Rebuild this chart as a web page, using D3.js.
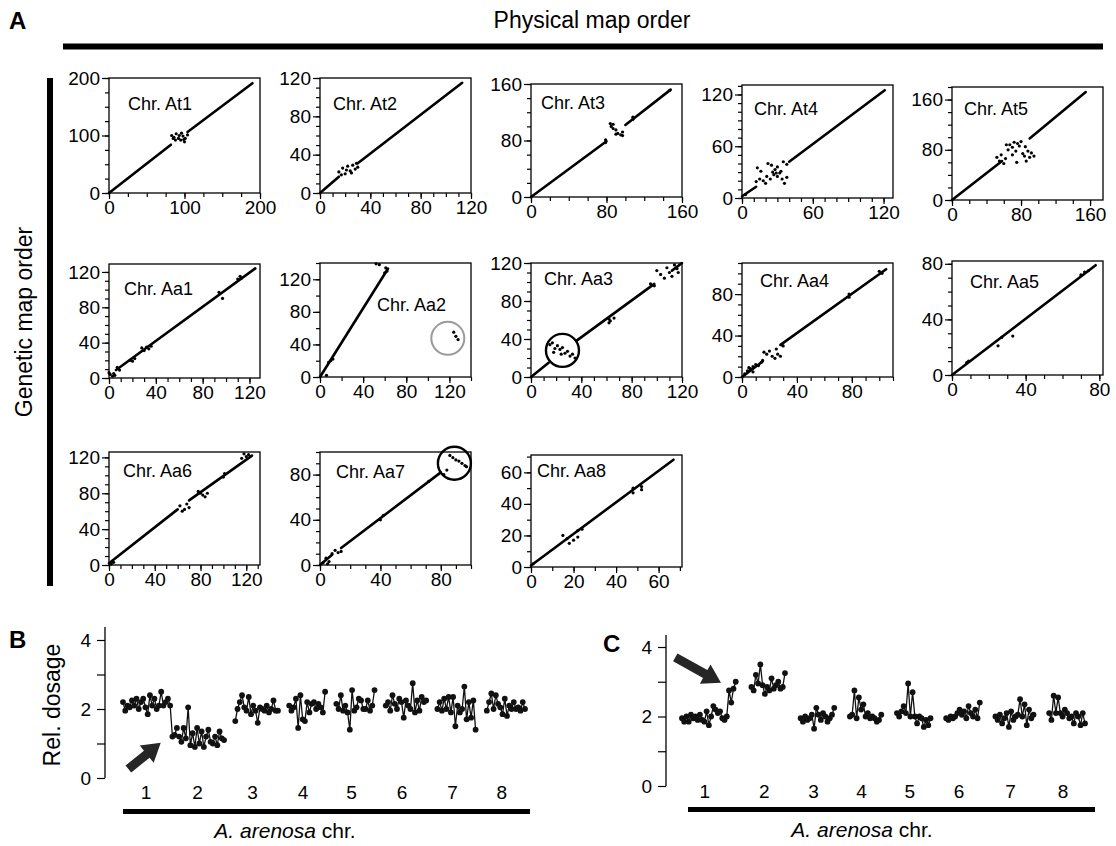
<!DOCTYPE html>
<html>
<head>
<meta charset="utf-8">
<script src="https://cdn.jsdelivr.net/npm/d3@7"></script>
<style>
body { margin: 0; background: #fff; }
svg { font-family: "Liberation Sans", Arial, Helvetica, sans-serif; }
.tick line { stroke: #000; stroke-width: 1.2; }
.tick text { fill: #000; }
</style>
</head>
<body>
<div id="fig"></div>
<script>

// ---- panel A: genetic vs physical map order ----
var chrNames = ["At1", "At2", "At3", "At4", "At5", "Aa1", "Aa2", "Aa3", "Aa4", "Aa5", "Aa6", "Aa7", "Aa8"];

// axis maxima [physical, genetic]
var chrDomains = {
    At1: [200, 200], At2: [120, 120], At3: [160, 160], At4: [128, 131], At5: [175, 180],
    Aa1: [129, 129], Aa2: [140, 140], Aa3: [120, 120], Aa4: [110, 110], Aa5: [82, 82],
    Aa6: [132, 126], Aa7: [100, 100], Aa8: [71, 71],
};

var majorTicks = {
    At1: [0, 100, 200], At2: [0, 40, 80, 120], At3: [0, 80, 160], At4: [0, 60, 120], At5: [0, 80, 160],
    Aa1: [0, 40, 80, 120], Aa2: [0, 40, 80, 120], Aa3: [0, 40, 80, 120], Aa4: [0, 40, 80], Aa5: [0, 40, 80],
    Aa6: [0, 40, 80, 120], Aa7: [0, 40, 80], Aa8: [0, 20, 40, 60],
};

var minorSteps = {
    At1: 25, At2: 10, At3: 20, At4: 10, At5: 20,
    Aa1: 10, Aa2: 20, Aa3: 10, Aa4: 10, Aa5: 10,
    Aa6: 10, Aa7: 10, Aa8: 10,
};

// collinear blocks [physStart, genStart, physEnd, genEnd]
var blocks = {
    At1: [[0, 0, 82, 84], [104, 106, 190, 191]],
    At2: [[0, 0, 15, 17], [30, 31, 113, 115]],
    At3: [[0, 0, 80, 79], [100, 102, 148, 152]],
    At4: [[0, 2, 12, 13], [40, 42, 121, 125]],
    At5: [[0, 0, 58, 62], [90, 98, 155, 172]],
    Aa1: [[6, 9, 125, 124]],
    Aa2: [[0, 0, 63, 133]],
    Aa3: [[0, 0, 14, 15], [36, 38, 98, 98], [112, 112, 120, 120]],
    Aa4: [[0, 0, 15, 15], [28, 31, 105, 104]],
    Aa5: [[0, 0, 78, 79]],
    Aa6: [[0, 2, 60, 62], [70, 72, 125, 122]],
    Aa7: [[0, 0, 8, 9], [14, 15, 80, 82]],
    Aa8: [[0, 1, 67, 68]],
};

// markers off the main blocks [phys, gen]
var markers = {
    At1: [[83, 100], [86, 97], [89, 103], [92, 95], [95, 92], [98, 99], [101, 95], [104, 101],
          [88, 92], [96, 104], [100, 89], [93, 100], [85, 95], [99, 93]],
    At2: [[15, 22], [17, 19], [18, 26], [20, 20], [21, 24], [22, 28], [24, 23], [25, 21],
          [26, 29], [28, 25], [29, 31], [30, 27]],
    At3: [[79, 77], [79, 81], [84, 104], [85, 100], [87, 97], [87, 103], [90, 95], [90, 89],
          [92, 90], [95, 88], [97, 92], [97, 87], [108, 110], [108, 113], [147, 151]],
    At4: [[3, 4], [13, 35], [16, 31], [22, 40], [25, 38], [28, 33], [30, 36], [35, 42], [38, 39],
          [18, 20], [20, 17], [24, 22], [27, 27], [30, 25], [32, 29], [34, 22], [36, 17], [38, 24],
          [15, 22], [12, 19], [26, 30], [29, 29], [21, 25], [33, 31]],
    At5: [[52, 68], [55, 62], [57, 72], [60, 58], [62, 66], [65, 80], [67, 88], [70, 84], [72, 92],
          [74, 78], [76, 90], [78, 86], [80, 93], [82, 74], [84, 70], [86, 62], [88, 78], [90, 68],
          [92, 75], [75, 60], [70, 72], [85, 85], [63, 88], [95, 70]],
    Aa1: [[0, 6], [1, 4], [3, 2], [4, 5], [5, 3], [7, 12], [9, 9], [18, 20], [20, 19], [22, 22],
          [28, 34], [30, 31], [32, 35], [34, 33], [36, 36], [94, 97], [97, 90], [110, 112],
          [112, 115], [113, 113]],
    Aa2: [[6, 2], [52, 139], [55, 138], [61, 134], [62, 130], [60, 128], [124, 55], [126, 50],
          [128, 46], [8, 18], [10, 20], [12, 22]],
    Aa3: [[15, 34], [17, 36], [19, 30], [21, 33], [23, 29], [25, 31], [27, 25], [29, 27], [31, 22],
          [33, 24], [35, 20], [18, 26], [24, 24], [62, 57], [62, 61], [63, 59], [66, 62], [95, 98],
          [98, 96], [100, 112], [103, 108], [106, 104], [108, 115], [110, 110], [112, 106],
          [114, 118], [116, 114], [117, 110]],
    Aa4: [[2, 3], [4, 6], [6, 8], [8, 10], [10, 12], [12, 11], [14, 14], [16, 24], [18, 22],
          [20, 25], [22, 20], [24, 18], [26, 22], [28, 20], [30, 30], [15, 16], [8, 5], [5, 9],
          [25, 27], [29, 31], [78, 80], [78, 77], [100, 102], [102, 100]],
    Aa5: [[25, 21], [33, 28], [8, 9], [9, 10], [70, 72], [72, 74], [74, 75], [27, 27]],
    Aa6: [[62, 66], [64, 60], [66, 62], [68, 68], [70, 64], [78, 82], [80, 80], [82, 78], [84, 76],
          [86, 80], [100, 98], [101, 102], [118, 124], [120, 121], [122, 123], [116, 119], [2, 1], [4, 3]],
    Aa7: [[86, 97], [88, 95], [90, 93], [92, 92], [94, 90], [96, 88], [97, 87], [84, 84], [82, 80],
          [2, 2], [4, 6], [6, 3], [8, 10], [10, 13], [12, 11], [14, 12], [5, 1], [40, 40], [42, 44], [72, 74]],
    Aa8: [[1, 2], [15, 20], [17, 18], [18, 15], [20, 17], [22, 19], [22, 23], [24, 24], [48, 50],
          [48, 47], [52, 51], [52, 49]],
};

// highlighted regions [chr, phys, gen, colour]
var rings = [
    ["Aa2", 118.5, 47.5, "#9a9a9a"],
    ["Aa3", 25, 28, "#000"],
    ["Aa7", 89, 90, "#000"],
];

// ---- panels B and C: relative dosage per A. arenosa chromosome ----
var chrLabels = ["1", "2", "3", "4", "5", "6", "7", "8"];

var dosageB = [
    [2.2, 1.95, 2.1, 2.05, 2.25, 2.1, 2.3, 2.0, 2.2, 2.3, 2.05, 1.85, 2.4, 2.1, 2.3, 2.0, 2.1, 2.5, 2.1, 2.2, 2.3, 2.1, 1.2, 1.25, 1.45],
    [1.2, 1.05, 1.45, 1.15, 2.05, 0.95, 1.3, 0.9, 1.45, 1.0, 1.35, 0.9, 1.2, 1.4, 1.05, 1.0, 1.2, 0.95, 1.35, 1.15, 1.1],
    [1.65, 2.0, 2.2, 2.4, 2.05, 1.95, 2.35, 1.85, 2.1, 1.95, 1.6, 2.05, 2.0, 1.95, 2.1, 1.9, 2.0, 2.25, 1.95, 1.95],
    [2.1, 1.95, 2.05, 2.3, 1.45, 2.4, 1.7, 1.65, 2.2, 1.9, 2.15, 2.2, 2.0, 2.15, 2.05, 1.9, 2.5],
    [2.15, 2.0, 2.4, 1.95, 2.1, 1.9, 1.4, 2.55, 1.95, 2.05, 2.3, 2.25, 2.0, 2.0, 2.25, 1.95, 2.1, 2.55],
    [2.1, 2.2, 1.95, 2.4, 2.15, 2.0, 2.3, 2.2, 1.75, 2.25, 2.1, 2.0, 2.75, 1.9, 2.25, 1.95, 2.35, 2.2, 2.25],
    [2.0, 2.2, 1.95, 2.3, 2.0, 2.35, 1.9, 2.35, 1.5, 2.1, 1.9, 2.0, 2.65, 1.7, 2.2, 1.75, 2.25, 1.4],
    [1.95, 2.2, 2.45, 2.0, 2.4, 2.15, 2.05, 1.85, 2.3, 1.8, 2.1, 2.0, 2.2, 2.0, 2.05, 1.95, 2.2, 2.0],
];

var dosageC = [
    [1.95, 1.85, 2.0, 1.85, 2.05, 1.95, 2.0, 1.9, 2.05, 1.9, 1.85, 2.15, 1.75, 2.0, 2.3, 2.2, 2.1, 2.15, 1.95, 1.9, 2.0, 2.75, 2.4, 2.8, 3.0],
    [2.85, 2.75, 3.2, 2.95, 3.5, 2.9, 2.65, 2.85, 2.75, 3.1, 2.8, 2.9, 3.0, 2.8, 2.85, 3.25],
    [1.95, 1.85, 2.0, 1.9, 1.95, 2.05, 1.65, 2.25, 2.05, 1.9, 2.1, 2.0, 1.85, 1.95, 2.05, 2.25],
    [2.0, 2.05, 2.75, 1.95, 2.55, 2.2, 2.35, 2.0, 2.1, 1.95, 2.0, 1.95, 1.85, 1.9, 2.05],
    [2.1, 2.0, 2.15, 2.3, 2.1, 2.95, 2.0, 2.7, 2.0, 1.8, 2.0, 1.95, 1.7, 1.9, 1.75, 1.95],
    [1.95, 1.9, 2.0, 1.95, 2.0, 2.1, 2.2, 2.05, 2.15, 1.95, 2.3, 2.1, 2.0, 2.2, 1.95, 2.4],
    [2.0, 1.9, 2.05, 1.8, 1.95, 2.1, 1.7, 2.15, 1.9, 2.0, 2.05, 2.5, 2.0, 2.35, 1.75, 2.2, 1.95, 2.05],
    [2.1, 1.9, 2.6, 2.1, 2.55, 2.1, 2.0, 2.2, 2.1, 1.95, 2.0, 1.8, 2.1, 2.0, 1.75, 2.1, 1.8],
];

// arrows [fromIndex, fromDosage, toIndex, toDosage]
var arrowB = [2.4, 0.26, 16.8, 1.02];
var arrowC = [-3, 3.7, 17.4, 2.97];

// ---- layout ----
var panelW = 151;
var colLeft = [109, 320, 531, 742, 952];
var layout = {
    At1: {col: 0, top: 78, bottom: 193, lab: [19, 32]},
    At2: {col: 1, top: 78, bottom: 193, lab: [13, 32]},
    At3: {col: 2, top: 84, bottom: 197, lab: [10, 25]},
    At4: {col: 3, top: 85, bottom: 198, lab: [12, 30]},
    At5: {col: 4, top: 87, bottom: 200, lab: [12, 28]},
    Aa1: {col: 0, top: 264, bottom: 378, lab: [15, 31]},
    Aa2: {col: 1, top: 263, bottom: 377, lab: [57, 48]},
    Aa3: {col: 2, top: 263, bottom: 377, lab: [13, 22]},
    Aa4: {col: 3, top: 263, bottom: 377, lab: [18, 24]},
    Aa5: {col: 4, top: 261, bottom: 375, lab: [18, 27]},
    Aa6: {col: 0, top: 452, bottom: 565, lab: [14, 25]},
    Aa7: {col: 1, top: 452, bottom: 565, lab: [16, 26]},
    Aa8: {col: 2, top: 455, bottom: 567, lab: [6, 22]},
};
var layoutB = {xr: [123, 525], y0: 778, y4: 640, ax: 105, axTop: 627, labY: 799,
               bar: [123, 530, 811.5], title: [285, 838], gaps: [0, 0, 4, 4, 4, 4, 4, 4]};
var layoutC = {xr: [682, 1085], y0: 786, y4: 647, ax: 666, axTop: 635, labY: 798,
               bar: [688, 1095, 809.5], title: [862, 837], gaps: [0, 6, 6, 6, 6, 6, 6, 6]};

var svg = d3.select("#fig").append("svg")
    .attr("width", 1116)
    .attr("height", 846)
;

// figure headings
svg.append("text").attr("x", 9).attr("y", 29)
    .attr("font-size", 24).attr("font-weight", "bold").text("A");
svg.append("text").attr("x", 592).attr("y", 28)
    .attr("text-anchor", "middle").attr("font-size", 23).text("Physical map order");
svg.append("rect").attr("x", 63).attr("y", 43.5).attr("width", 1040).attr("height", 6).attr("fill", "#000");
svg.append("rect").attr("x", 47).attr("y", 78).attr("width", 6).attr("height", 508).attr("fill", "#000");
svg.append("text")
    .attr("transform", "translate(32, 322) rotate(-90)")
    .attr("text-anchor", "middle").attr("font-size", 23).text("Genetic map order");

chrNames.forEach(name => drawScatter(svg.append("g"), name));

drawDosage(svg.append("g"), dosageB, layoutB, arrowB);
drawDosage(svg.append("g"), dosageC, layoutC, arrowC);

svg.append("text").attr("x", 9).attr("y", 648)
    .attr("font-size", 24).attr("font-weight", "bold").text("B");
svg.append("text").attr("x", 603).attr("y", 652)
    .attr("font-size", 24).attr("font-weight", "bold").text("C");
svg.append("text")
    .attr("transform", "translate(60, 705) rotate(-90)")
    .attr("text-anchor", "middle").attr("font-size", 23).text("Rel. dosage");

function plainAxis(a) {
    a.attr("font-family", null).attr("font-size", null);
    a.select(".domain").remove();
}

function drawScatter(g, name) {
    var L = layout[name];
    var left = colLeft[L.col];
    var dom = chrDomains[name];
    var x = d3.scaleLinear().domain([0, dom[0]]).range([left, left + panelW]);
    var y = d3.scaleLinear().domain([0, dom[1]]).range([L.bottom, L.top]);
    var step = minorSteps[name];

    g.append("g").attr("transform", `translate(0,${L.bottom})`)
        .call(d3.axisBottom(x).tickValues(d3.range(0, dom[0] + 1e-6, step)).tickSize(4).tickFormat(""))
        .call(plainAxis);
    g.append("g").attr("transform", `translate(0,${L.bottom})`)
        .call(d3.axisBottom(x).tickValues(majorTicks[name]).tickSize(6).tickPadding(2))
        .call(plainAxis)
        .attr("font-size", 19);
    g.append("g").attr("transform", `translate(${left},0)`)
        .call(d3.axisLeft(y).tickValues(d3.range(0, dom[1] + 1e-6, step)).tickSize(4).tickFormat(""))
        .call(plainAxis);
    g.append("g").attr("transform", `translate(${left},0)`)
        .call(d3.axisLeft(y).tickValues(majorTicks[name]).tickSize(7).tickPadding(2))
        .call(plainAxis)
        .attr("font-size", 19);

    g.append("rect")
        .attr("x", left).attr("y", L.top)
        .attr("width", panelW).attr("height", L.bottom - L.top)
        .attr("fill", "none").attr("stroke", "#000").attr("stroke-width", 1.3);

    g.selectAll("line.block").data(blocks[name]).join("line")
        .attr("class", "block")
        .attr("x1", d => x(d[0])).attr("y1", d => y(d[1]))
        .attr("x2", d => x(d[2])).attr("y2", d => y(d[3]))
        .attr("stroke", "#000").attr("stroke-width", 2.6).attr("stroke-linecap", "round");

    g.selectAll("circle.mk").data(markers[name]).join("circle")
        .attr("class", "mk")
        .attr("cx", d => x(d[0])).attr("cy", d => y(d[1]))
        .attr("r", 1.6).attr("fill", "#000");

    g.selectAll("circle.ring").data(rings.filter(r => r[0] === name)).join("circle")
        .attr("class", "ring")
        .attr("cx", d => x(d[1])).attr("cy", d => y(d[2])).attr("r", 16.5)
        .attr("fill", "none").attr("stroke", d => d[3]).attr("stroke-width", d => d[3] === "#000" ? 2.4 : 2);

    g.append("text")
        .attr("x", left + L.lab[0]).attr("y", L.top + L.lab[1])
        .attr("font-size", 18).text("Chr. " + name);
}

function drawDosage(g, series, L, arrow) {
    var starts = [];
    var acc = 0;
    series.forEach((s, i) => { acc += L.gaps[i]; starts.push(acc); acc += s.length; });
    var x = d3.scaleLinear().domain([0, acc - 1]).range(L.xr);
    var y = d3.scaleLinear().domain([0, 4]).range([L.y0, L.y4]);

    g.append("g").attr("transform", `translate(${L.ax},0)`)
        .call(d3.axisLeft(y).tickValues([0, 1, 2, 3, 4]).tickSize(8).tickPadding(6)
            .tickFormat(d => d % 2 === 0 ? d : ""))
        .call(plainAxis)
        .attr("font-size", 19);
    g.append("line")
        .attr("x1", L.ax).attr("x2", L.ax).attr("y1", y(0)).attr("y2", L.axTop)
        .attr("stroke", "#000").attr("stroke-width", 1.3);

    var line = d3.line().x(d => x(d.i)).y(d => y(d.v));
    series.forEach((s, c) => {
        var pts = s.map((v, k) => ({i: starts[c] + k, v: v}));
        g.append("path").attr("d", line(pts))
            .attr("fill", "none").attr("stroke", "#111").attr("stroke-width", 1.3);
        g.selectAll(null).data(pts).join("circle")
            .attr("cx", d => x(d.i)).attr("cy", d => y(d.v))
            .attr("r", 2.9).attr("fill", "#111");
        g.append("text")
            .attr("x", x(starts[c] + (s.length - 1) / 2) - 4).attr("y", L.labY)
            .attr("text-anchor", "middle").attr("font-size", 19).text(chrLabels[c]);
    });

    g.append("rect")
        .attr("x", L.bar[0]).attr("y", L.bar[2] - 2.5)
        .attr("width", L.bar[1] - L.bar[0]).attr("height", 5).attr("fill", "#000");
    var t = g.append("text")
        .attr("x", L.title[0]).attr("y", L.title[1])
        .attr("text-anchor", "middle").attr("font-size", 21);
    t.append("tspan").attr("font-style", "italic").text("A. arenosa");
    t.append("tspan").text(" chr.");

    g.append("path")
        .attr("d", arrowPath(x(arrow[0]), y(arrow[1]), x(arrow[2]), y(arrow[3])))
        .attr("fill", "#262626");
}

function arrowPath(x1, y1, x2, y2) {
    var dx = x2 - x1, dy = y2 - y1, len = Math.hypot(dx, dy);
    var ux = dx / len, uy = dy / len, px = -uy, py = ux;
    var hl = 18, hw = 11, sw = 4.5;
    var bx = x2 - ux * hl, by = y2 - uy * hl;
    var p = [
        [x1 + px * sw, y1 + py * sw], [bx + px * sw, by + py * sw], [bx + px * hw, by + py * hw],
        [x2, y2], [bx - px * hw, by - py * hw], [bx - px * sw, by - py * sw], [x1 - px * sw, y1 - py * sw],
    ];
    return "M" + p.map(q => q.join(",")).join("L") + "Z";
}

</script>
</body>
</html>
